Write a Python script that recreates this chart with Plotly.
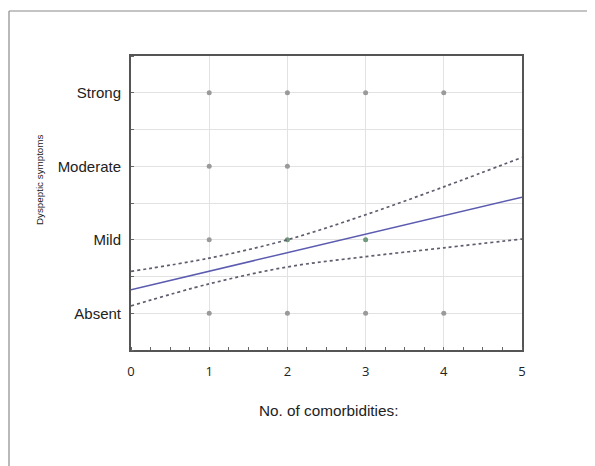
import plotly.graph_objects as go

# Data
levels = ["Absent", "Mild", "Moderate", "Strong"]
level_vals = [0, 1, 2, 3]

pts_x_gray = [1, 2, 3, 4, 1, 2, 1, 1, 2, 3, 4]
pts_y_gray = [3, 3, 3, 3, 2, 2, 1, 0, 0, 0, 0]
pts_x_green = [2, 3]
pts_y_green = [1, 1]

fit_x = [0, 1, 2, 3, 4, 5]
fit_y = [0.32, 0.57, 0.82, 1.07, 1.32, 1.58]
upper_y = [0.57, 0.75, 1.0, 1.34, 1.72, 2.12]
lower_y = [0.10, 0.40, 0.63, 0.77, 0.89, 1.01]

OFF = 8  # page body margin
W, H = 595 - OFF, 466 - OFF
L, R, T, B = 131 - OFF, 522 - OFF, 56 - OFF, 350 - OFF

fig = go.Figure()
fig.add_trace(go.Scatter(x=pts_x_gray, y=pts_y_gray, mode="markers",
                         marker=dict(size=5, color="#9a9a9a"), showlegend=False))
fig.add_trace(go.Scatter(x=pts_x_green, y=pts_y_green, mode="markers",
                         marker=dict(size=5, color="#6f9a7a"), showlegend=False))
fig.add_trace(go.Scatter(x=fit_x, y=upper_y, mode="lines", line_shape="spline",
                         line=dict(color="#5e5e6e", width=1.7, dash="3px,3px"), showlegend=False))
fig.add_trace(go.Scatter(x=fit_x, y=lower_y, mode="lines", line_shape="spline",
                         line=dict(color="#5e5e6e", width=1.7, dash="3px,3px"), showlegend=False))
fig.add_trace(go.Scatter(x=fit_x, y=fit_y, mode="lines",
                         line=dict(color="#5b5bb0", width=1.5), showlegend=False))

def px_x(p):
    return (p - OFF - L) / (R - L)

def px_y(p):
    return (B - (p - OFF)) / (B - T)

# outer frame: only the top and left edges are visible
fig.add_shape(type="line", xref="paper", yref="paper",
              x0=px_x(9), x1=px_x(600), y0=px_y(11), y1=px_y(11),
              line=dict(color="#8a8a8a", width=1.2), layer="below")
fig.add_shape(type="line", xref="paper", yref="paper",
              x0=px_x(9), x1=px_x(9), y0=px_y(11), y1=px_y(470),
              line=dict(color="#8a8a8a", width=1.2), layer="below")

fig.add_annotation(text="Dyspeptic symptoms", xref="paper", yref="paper",
                   x=px_x(39), y=px_y(180), xanchor="center", yanchor="middle",
                   textangle=-90, showarrow=False,
                   font=dict(family="Liberation Sans Narrow, Arial Narrow, Liberation Sans", size=9.8, color="#222"))
fig.add_annotation(text="No. of comorbidities:", xref="paper", yref="paper",
                   x=px_x(328), y=px_y(411), xanchor="center", yanchor="middle",
                   showarrow=False,
                   font=dict(family="Liberation Sans Narrow, Arial Narrow, Liberation Sans", size=15.3, color="#222"))

fig.update_layout(
    width=W, height=H,
    margin=dict(l=L, r=W - R, t=T, b=H - B),
    paper_bgcolor="white", plot_bgcolor="white",
    xaxis=dict(range=[0, 5], tickvals=[0, 1, 2, 3, 4, 5], ticktext=["0", "1", "2", "3", "4", "5"],
               showgrid=True, gridcolor="#e2e2e2", gridwidth=1.2, zeroline=False,
               showline=True, linecolor="#555", linewidth=2, mirror=True,
               ticks="", ticklabelstandoff=8,
               minor=dict(ticks="inside", ticklen=3, dtick=0.25, tickcolor="#666", showgrid=False),
               tickfont=dict(family="Open Sans", size=13, color="#222")),
    yaxis=dict(range=[-0.5, 3.5], tickvals=level_vals, ticktext=levels,
               showgrid=True, gridcolor="#e2e2e2", gridwidth=1.2, zeroline=False,
               showline=True, linecolor="#555", linewidth=2, mirror=True,
               ticks="", ticklabelstandoff=5,
               minor=dict(ticks="inside", ticklen=3, dtick=0.5, tick0=0, tickcolor="#666",
                          showgrid=True, gridcolor="#e2e2e2", gridwidth=1.2),
               tickfont=dict(family="Liberation Sans Narrow, Arial Narrow, Liberation Sans", size=15, color="#222")),
)

fig.write_html("out.html")
